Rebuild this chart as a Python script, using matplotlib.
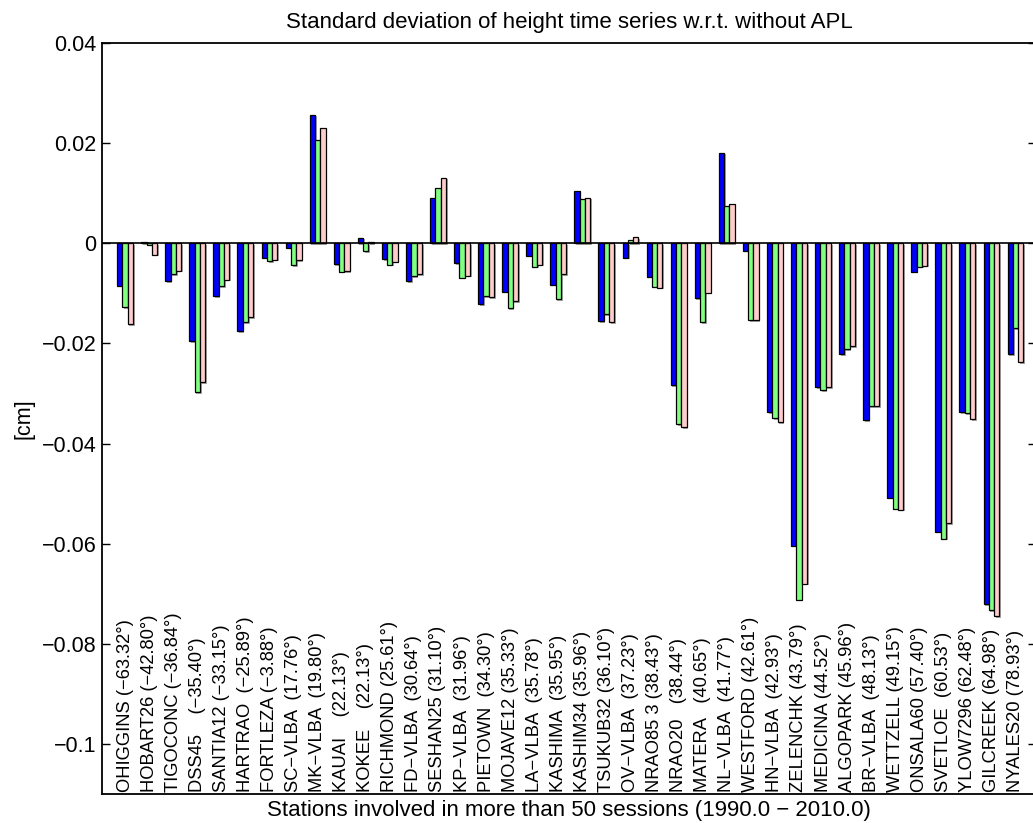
import numpy as np
import matplotlib
matplotlib.use('Agg')
import matplotlib.pyplot as plt
import matplotlib.patheffects as pe

plt.rcParams['font.family'] = ['Liberation Sans', 'DejaVu Sans']
plt.rcParams['axes.unicode_minus'] = True

# stations and their latitudes
names = ['OHIGGINS', 'HOBART26', 'TIGOCONC', 'DSS45', 'SANTIA12', 'HARTRAO',
         'FORTLEZA', 'SC-VLBA', 'MK-VLBA', 'KAUAI', 'KOKEE', 'RICHMOND',
         'FD-VLBA', 'SESHAN25', 'KP-VLBA', 'PIETOWN', 'MOJAVE12', 'LA-VLBA',
         'KASHIMA', 'KASHIM34', 'TSUKUB32', 'OV-VLBA', 'NRAO85 3', 'NRAO20',
         'MATERA', 'NL-VLBA', 'WESTFORD', 'HN-VLBA', 'ZELENCHK', 'MEDICINA',
         'ALGOPARK', 'BR-VLBA', 'WETTZELL', 'ONSALA60', 'SVETLOE', 'YLOW7296',
         'GILCREEK', 'NYALES20']
lats = [-63.32, -42.80, -36.84, -35.40, -33.15, -25.89, -3.88, 17.76, 19.80,
        22.13, 22.13, 25.61, 30.64, 31.10, 31.96, 34.30, 35.33, 35.78, 35.95,
        35.96, 36.10, 37.23, 38.43, 38.44, 40.65, 41.77, 42.61, 42.93, 43.79,
        44.52, 45.96, 48.13, 49.15, 57.40, 60.53, 62.48, 64.98, 78.93]

# std differences [cm] for the three solutions
sol1 = [-0.0085, 0.0003, -0.0076, -0.0195, -0.0105, -0.0175, -0.0029, -0.0009,
        0.0257, -0.0042, 0.0011, -0.0032, -0.0076, 0.0091, -0.0040, -0.0121,
        -0.0097, -0.0025, -0.0083, 0.0104, -0.0155, -0.0029, -0.0067, -0.0283,
        -0.0109, 0.0181, -0.0015, -0.0337, -0.0604, -0.0287, -0.0221, -0.0353,
        -0.0508, -0.0057, -0.0576, -0.0337, -0.0721, -0.0221]
sol2 = [-0.0127, -0.0003, -0.0062, -0.0297, -0.0086, -0.0157, -0.0036, -0.0044,
        0.0207, -0.0057, -0.0016, -0.0043, -0.0066, 0.0111, -0.0069, -0.0105,
        -0.0129, -0.0047, -0.0111, 0.0089, -0.0141, 0.0006, -0.0087, -0.0361,
        -0.0157, 0.0075, -0.0154, -0.0349, -0.0712, -0.0293, -0.0211, -0.0325,
        -0.0530, -0.0047, -0.0590, -0.0339, -0.0733, -0.0170]
sol3 = [-0.0161, -0.0023, -0.0055, -0.0277, -0.0073, -0.0147, -0.0033, -0.0034,
        0.0231, -0.0056, 0.0003, -0.0037, -0.0062, 0.0131, -0.0065, -0.0107,
        -0.0116, -0.0043, -0.0062, 0.0091, -0.0157, 0.0012, -0.0089, -0.0367,
        -0.0099, 0.0079, -0.0153, -0.0357, -0.0680, -0.0287, -0.0205, -0.0326,
        -0.0532, -0.0045, -0.0559, -0.0351, -0.0745, -0.0237]

colors = ['#0000ff', '#80ff80', '#ffcccc']

fig = plt.figure(figsize=(10.33, 8.23), dpi=100)
ax = fig.add_axes([102/1033, 29/823, (1036-102)/1033, (794-43)/823])

x = np.arange(1, len(names)+1)
w = 0.22
shadow = [pe.SimplePatchShadow(offset=(1.2, -1.2), shadow_rgbFace='gray', alpha=0.7), pe.Normal()]
for k, vals in enumerate([sol1, sol2, sol3]):
    bars = ax.bar(x + (k-1)*w, vals, w, color=colors[k], edgecolor='black', linewidth=0.9, zorder=2)
    for b in bars:
        b.set_path_effects(shadow)

ax.axhline(0, color='black', linewidth=1.2, zorder=3)

# station labels written upright inside the axes
for xi, n, la in zip(x, names, lats):
    s = '%-8s (%.2f°)' % (n, la)
    s = s.replace('-', '\u2212')
    ax.text(xi, -0.1096, s, rotation=90, ha='center', va='bottom', fontsize=13.2)

ax.set_xlim(0.04, 38.85)
ax.set_ylim(-0.11, 0.04)
ax.set_xticks([])
ax.set_yticks([0.04, 0.02, 0, -0.02, -0.04, -0.06, -0.08, -0.1])
ax.set_yticklabels(['0.04', '0.02', '0', '\u22120.02', '\u22120.04', '\u22120.06', '\u22120.08', '\u22120.1'])
ax.tick_params(axis='y', direction='in', length=6, width=1, labelsize=15.5, pad=4, right=True)
for sp in ax.spines.values():
    sp.set_linewidth(1.3)

ax.set_ylabel('[cm]', fontsize=15.5, labelpad=5)
ax.set_xlabel('Stations involved in more than 50 sessions (1990.0 \u2212 2010.0)', fontsize=16, labelpad=4)
ax.set_title('Standard deviation of height time series w.r.t. without APL', fontsize=16, pad=11)

fig.savefig('out.png', dpi=100)
